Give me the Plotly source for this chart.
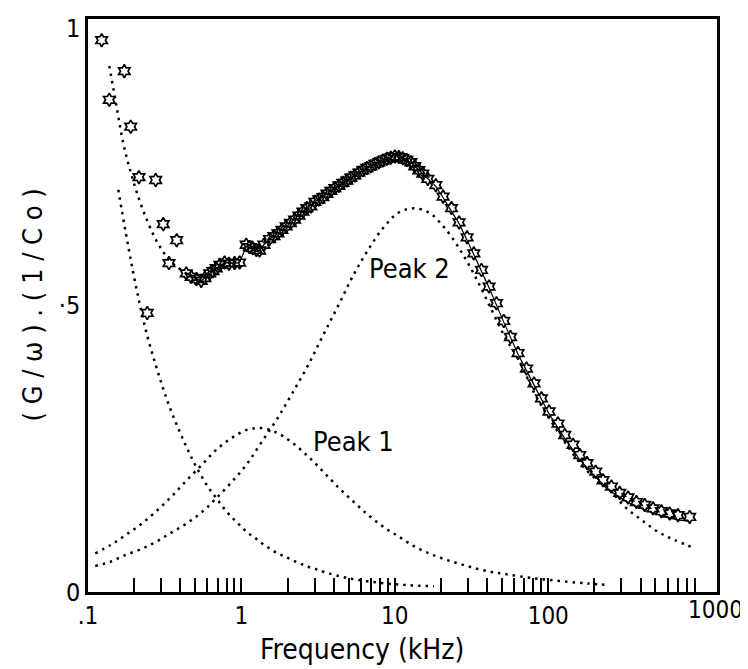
import plotly.graph_objects as go

FONT = "Liberation Sans Narrow, DejaVu Sans Condensed, Liberation Sans, sans-serif"

# ---- measured data points (stars) ----
data_freq = [0.1228, 0.1377, 0.1724, 0.1898, 0.2149, 0.2433, 0.2761, 0.3094, 0.3371, 0.3784,
             0.437, 0.471, 0.509, 0.547, 0.578, 0.621, 0.652, 0.685, 0.724, 0.777, 0.829, 0.903, 0.973,
             1.075, 1.127, 1.188, 1.252, 1.314, 1.401, 1.526, 1.628, 1.729, 1.836, 1.958, 2.086, 2.222,
             2.370, 2.516, 2.672, 2.836, 3.011, 3.198, 3.396, 3.606, 3.828, 4.065, 4.317, 4.584, 4.867,
             5.168, 5.488, 5.828, 6.186, 6.570, 6.976, 7.407, 7.867, 8.352, 8.868, 9.417, 10.0, 10.62,
             11.27, 11.97, 12.71, 13.49, 14.33, 15.21, 16.40, 18.50, 20.64, 23.41, 26.24, 29.58, 32.71,
             36.71, 41.15, 45.97, 51.30, 56.73, 63.58, 72.11, 80.83, 90.30, 101.2, 115.8, 128.1, 145.0,
             160.4, 179.0, 203.9, 227.5, 258.1, 292.3, 331.1, 375.5, 425.4, 481.7, 546.6, 618.8, 700.8, 835.4]
data_val = [0.963, 0.859, 0.909, 0.812, 0.724, 0.487, 0.719, 0.642, 0.574, 0.614,
            0.556, 0.550, 0.546, 0.543, 0.548, 0.556, 0.560, 0.565, 0.571, 0.575, 0.573, 0.574, 0.575,
            0.606, 0.602, 0.600, 0.597, 0.596, 0.606, 0.616, 0.621, 0.626, 0.632, 0.638, 0.644, 0.650,
            0.657, 0.664, 0.670, 0.673, 0.681, 0.685, 0.689, 0.695, 0.700, 0.705, 0.709, 0.714, 0.718,
            0.723, 0.727, 0.732, 0.736, 0.740, 0.743, 0.747, 0.750, 0.753, 0.756, 0.758, 0.760, 0.759,
            0.757, 0.754, 0.750, 0.743, 0.736, 0.730, 0.721, 0.710, 0.690, 0.670, 0.645, 0.619, 0.591,
            0.562, 0.533, 0.504, 0.473, 0.445, 0.417, 0.390, 0.364, 0.338, 0.315, 0.294, 0.274, 0.257,
            0.239, 0.225, 0.210, 0.195, 0.184, 0.173, 0.165, 0.157, 0.152, 0.146, 0.141, 0.137, 0.134, 0.131]

# ---- total fit: dotted at low frequency, solid elsewhere ----
fit_lo_freq = [0.1377, 0.1538, 0.1698, 0.1906, 0.2149, 0.2423, 0.272, 0.3048, 0.3396, 0.382, 0.437]
fit_lo_val = [0.918, 0.846, 0.783, 0.731, 0.686, 0.649, 0.619, 0.596, 0.579, 0.567, 0.556]

fit_freq = [0.437, 0.509, 0.547, 0.621, 0.685, 0.777, 0.903, 0.973, 1.075, 1.188, 1.314, 1.401,
            1.526, 1.729, 2.086, 2.516, 3.011, 3.606, 4.317, 5.168, 6.186, 7.407, 8.352, 10.0,
            11.27, 12.71, 14.33, 16.40, 18.50, 20.64, 26.24, 32.71, 41.15, 51.30, 63.58, 80.83,
            101.2, 128.1, 160.4, 203.9, 258.1, 331.1, 425.4, 546.6, 700.8, 835.4]
fit_val = [0.556, 0.546, 0.543, 0.556, 0.565, 0.575, 0.574, 0.575, 0.603, 0.600, 0.596, 0.606,
           0.616, 0.626, 0.644, 0.664, 0.681, 0.695, 0.709, 0.723, 0.736, 0.747, 0.753, 0.760,
           0.757, 0.750, 0.736, 0.721, 0.708, 0.688, 0.643, 0.589, 0.531, 0.471, 0.415, 0.361,
           0.311, 0.268, 0.231, 0.200, 0.175, 0.156, 0.143, 0.133, 0.126, 0.123]

# ---- low-frequency tail component ----
tail_freq = [0.1575, 0.176, 0.1965, 0.219, 0.2433, 0.2744, 0.308, 0.3457, 0.39, 0.4369, 0.4882,
             0.547, 0.6142, 0.6851, 0.769, 0.8672, 0.973, 1.09, 1.219, 1.36, 1.526, 1.711, 1.912,
             2.133, 2.405, 2.712, 3.058, 3.448, 5.0, 8.0, 12.0, 18.0]
tail_val = [0.702, 0.628, 0.559, 0.499, 0.447, 0.399, 0.356, 0.318, 0.284, 0.254, 0.227,
            0.203, 0.181, 0.164, 0.146, 0.130, 0.117, 0.104, 0.095, 0.085, 0.076, 0.068, 0.062,
            0.056, 0.050, 0.044, 0.040, 0.035, 0.024, 0.016, 0.012, 0.010]

# ---- Peak 1 component ----
p1_freq = [0.1116, 0.1405, 0.175, 0.2205, 0.2786, 0.3488, 0.4369, 0.5528, 0.6851, 0.8672, 1.086,
           1.346, 1.703, 2.133, 2.712, 3.412, 4.272, 5.407, 6.803, 8.606, 10.78, 13.30, 16.73,
           21.17, 26.51, 33.71, 42.66, 53.41, 80.0, 120.0, 180.0, 250.0]
p1_val = [0.0675, 0.082, 0.099, 0.118, 0.141, 0.166, 0.194, 0.222, 0.248, 0.269, 0.283,
          0.286, 0.278, 0.261, 0.237, 0.210, 0.183, 0.157, 0.133, 0.112, 0.0955, 0.080, 0.0675,
          0.057, 0.049, 0.041, 0.035, 0.031, 0.024, 0.019, 0.015, 0.012]

# ---- Peak 2 component ----
p2_freq = [0.1116, 0.1405, 0.175, 0.2205, 0.2786, 0.3488, 0.441, 0.5555, 0.6851, 0.8672, 1.086,
           1.346, 1.703, 2.143, 2.724, 3.412, 4.317, 5.407, 6.803, 8.517, 10.67, 13.36, 16.73,
           20.95, 26.51, 33.2, 41.58, 52.07, 65.2, 81.66, 101.2, 128.0, 160.0, 204.0, 251.6,
           315.0, 404.8, 519.2, 667.0, 900.0]
p2_val = [0.0454, 0.0529, 0.0646, 0.0745, 0.0878, 0.1035, 0.120, 0.140, 0.1635, 0.1925, 0.2234,
          0.2606, 0.3014, 0.3468, 0.396, 0.4485, 0.502, 0.5545, 0.600, 0.6375, 0.6627, 0.6696, 0.662,
          0.6365, 0.598, 0.552, 0.499, 0.4456, 0.402, 0.3456, 0.3037, 0.262, 0.226, 0.197, 0.178,
          0.149, 0.1257, 0.105, 0.0908, 0.0763]

# ---- axis ticks ----
tick_vals = [0.2, 0.3, 0.4, 0.5, 0.6, 0.7, 0.8, 0.9, 1, 2, 3, 4, 5, 6, 7, 8, 9, 10,
             20, 30, 40, 50, 60, 70, 80, 90, 100, 200, 300, 400, 500, 600, 700, 800, 900]
tick_text = ["1" if v == 1 else "10" if v == 10 else "100" if v == 100 else "" for v in tick_vals]
y_tick_vals = [0, 0.5]
y_tick_text = ["0", "·5"]

DOT = "2.5px,5px"

fig = go.Figure()
for fx, fy in [(tail_freq, tail_val), (p1_freq, p1_val), (p2_freq, p2_val), (fit_lo_freq, fit_lo_val)]:
    fig.add_trace(go.Scatter(x=fx, y=fy, mode="lines",
                             line=dict(color="black", width=2.5, dash=DOT, shape="spline"),
                             showlegend=False, hoverinfo="skip"))
fig.add_trace(go.Scatter(x=fit_freq, y=fit_val, mode="lines",
                         line=dict(color="black", width=1.2), showlegend=False))
fig.add_trace(go.Scatter(x=data_freq, y=data_val, mode="markers",
                         marker=dict(symbol="hexagram-open", size=10, color="black",
                                     line=dict(color="black", width=1.7)),
                         showlegend=False))

fig.update_layout(
    width=748, height=669,
    margin=dict(l=80, r=39, t=11, b=85),
    paper_bgcolor="white", plot_bgcolor="white",
    font=dict(family=FONT, color="black"),
    xaxis=dict(type="log", range=[-1, 3.1], showline=True, mirror=True, linecolor="black",
               linewidth=2.5, ticks="inside", ticklen=14, tickwidth=2, tickcolor="black",
               tickvals=[0.1] + tick_vals, ticktext=[".1"] + tick_text,
               tickfont=dict(size=24, family=FONT), showgrid=False, zeroline=False,
               ticklabeloverflow="allow", automargin=False),
    yaxis=dict(range=[0, 1], showline=True, mirror=True, linecolor="black", linewidth=2.5,
               ticks="", tickvals=y_tick_vals, ticktext=y_tick_text,
               tickfont=dict(size=25, family=FONT), showgrid=False, zeroline=False,
               ticklabeloverflow="allow", automargin=False),
    annotations=[
        dict(x=0, y=1, xref="paper", yref="y", text="1", showarrow=False,
             xanchor="right", yanchor="top", xshift=-6, yshift=7, font=dict(size=25, family=FONT)),
        dict(x=3, y=0, xref="x", yref="paper", text="1000", showarrow=False,
             xanchor="center", yanchor="top", xshift=14, yshift=-2, font=dict(size=24, family=FONT)),
        dict(x=1.096, y=0.565, xref="x", yref="y", text="Peak 2", showarrow=False,
             xanchor="center", yanchor="middle", font=dict(size=27, family=FONT)),
        dict(x=0.7275, y=0.262, xref="x", yref="y", text="Peak 1", showarrow=False,
             xanchor="center", yanchor="middle", font=dict(size=27, family=FONT)),
        dict(x=0.435, y=-0.101, xref="paper", yref="paper", text="Frequency (kHz)", showarrow=False,
             xanchor="center", yanchor="middle", font=dict(size=28, family=FONT)),
        dict(x=-0.089, y=0.5, xref="paper", yref="paper", text="( G / ω ) . ( 1 / C o )",
             xanchor="center", yanchor="middle",
             textangle=-90, showarrow=False, font=dict(size=27, family=FONT)),
    ],
)

fig.write_html("out.html")
